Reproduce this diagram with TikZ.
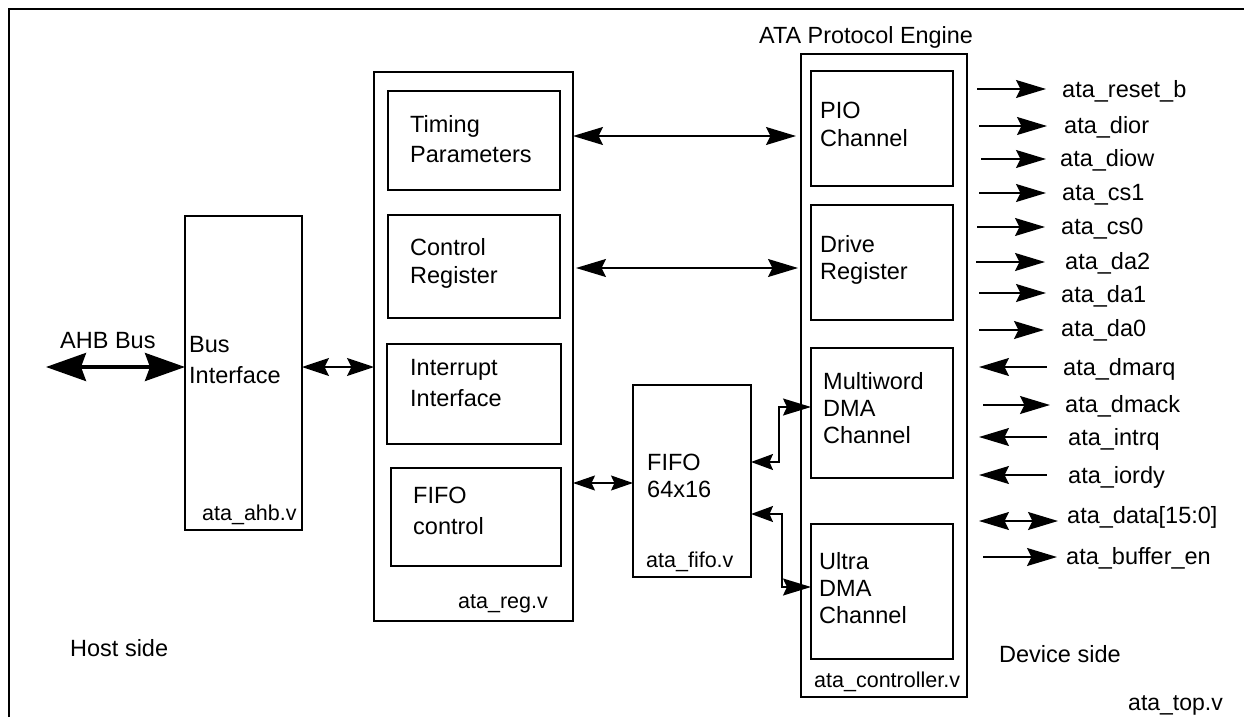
\documentclass[tikz,border=0pt]{standalone}
\usepackage{fontspec}
\setmainfont{Liberation Sans}
\usetikzlibrary{arrows.meta}
\newcommand\sigline[8]{%
  \coordinate (#1-a) at (#3,#2);
  \coordinate (#1-b) at (#4,#2);
  \node[sigtxt] (#1) at (#6,#7) {#8};
  \draw[#5] (#1-a) -- (#1-b);
}
\begin{document}
\begin{tikzpicture}[x=1pt,y=-1pt,
  box/.style={draw, line width=2pt, inner sep=0pt, outer sep=0pt},
  txt/.style={anchor=base west, inner sep=0pt, align=left, font=\fontsize{23.5}{#1}\selectfont},
  txt/.default=28,
  file/.style={anchor=base west, inner sep=0pt, font=\fontsize{21.5}{26}\selectfont},
  sigtxt/.style={anchor=base west, inner sep=0pt, font=\fontsize{23.5}{28}\selectfont},
  plain/.style={anchor=base west, inner sep=0pt, font=\fontsize{23.5}{28}\selectfont},
  sigout/.style={line width=1.5pt, -{Stealth[length=30pt,width=18pt,inset=4.5pt]}},
  sigin/.style={line width=1.5pt, {Stealth[length=30pt,width=18pt,inset=4.5pt]}-},
  sigboth/.style={line width=1.5pt, {Stealth[length=30pt,width=18pt,inset=4.5pt]}-{Stealth[length=30pt,width=18pt,inset=4.5pt]}},
  bus/.style={line width=3.5pt, {Stealth[length=40pt,width=28pt,inset=5pt]}-{Stealth[length=40pt,width=28pt,inset=5pt]}},
  conn/.style={line width=1.5pt, {Stealth[length=#1,width=18pt,inset=4.5pt]}-{Stealth[length=#1,width=18pt,inset=4.5pt]}},
  conn/.default=30pt,
  small/.style={line width=1.5pt, {Stealth[length=22pt,width=15pt,inset=3.5pt]}-{Stealth[length=22pt,width=15pt,inset=3.5pt]}},
  dma/.style={line width=1.5pt, {Stealth[length=22pt,width=16pt,inset=3.5pt]}-{Stealth[length=28pt,width=17pt,inset=4pt]}}
]
\useasboundingbox (0,0) rectangle (1244,717);
% outer frame (ata_top.v)
\draw[line width=2pt] (9,717) -- (9,9) -- (1244,9);

% blocks
\node[box, minimum width=117pt, minimum height=314pt] (ahb) at (243.5,373) {};
\node[box, minimum width=199pt, minimum height=549pt] (reg) at (473.5,346.5) {};
\node[box, minimum width=172pt, minimum height=99pt] (tim) at (474,140.5) {};
\node[box, minimum width=172pt, minimum height=103pt] (ctl) at (474,266.5) {};
\node[box, minimum width=174pt, minimum height=100pt] (irq) at (474,394) {};
\node[box, minimum width=170pt, minimum height=98pt] (fic) at (476,517) {};
\node[box, minimum width=118pt, minimum height=192pt] (fifo) at (692,481) {};
\node[box, minimum width=166pt, minimum height=643pt] (eng) at (884,375.5) {};
\node[box, minimum width=142pt, minimum height=115pt] (pio) at (882,128.5) {};
\node[box, minimum width=142pt, minimum height=115pt] (drv) at (882,262.5) {};
\node[box, minimum width=142pt, minimum height=130pt] (mdma) at (882,413) {};
\node[box, minimum width=142pt, minimum height=135pt] (udma) at (882,591.5) {};

% texts (anchor base = baseline of the last line)
\node[txt=31] (ahbt) at (189,383) {Bus\\Interface};
\node[file] (ahbl) at (202,520) {ata\_ahb.v};
\node[txt=30] (timt) at (410,162) {Timing\\Parameters};
\node[txt=28] (ctlt) at (410,283) {Control\\Register};
\node[txt=31] (irqt) at (410,406) {Interrupt\\Interface};
\node[txt=31] (fict) at (413,534) {FIFO\\control};
\node[file] (regl) at (458,608) {ata\_reg.v};
\node[txt=27] (fifot) at (647,497) {FIFO\\64x16};
\node[file] (fifol) at (646,567) {ata\_fifo.v};
\node[txt=28] (piot) at (820,146) {PIO\\Channel};
\node[txt=27] (drvt) at (820,279) {Drive\\Register};
\node[txt=27] (mdmat) at (823,443) {Multiword\\DMA\\Channel};
\node[txt=27] (udmat) at (819,623) {Ultra\\DMA\\Channel};
\node[file] (engl) at (814,687) {ata\_controller.v};
\node[anchor=base west, inner sep=0pt, font=\fontsize{23.4}{28}\selectfont] (engt) at (759,44) {ATA Protocol Engine};
\node[plain] (ahbbus) at (60,348) {AHB Bus};
\node[plain] (host) at (70,656) {Host side};
\node[plain] (dev) at (999,662) {Device side};
\node[anchor=base west, inner sep=0pt, font=\fontsize{23}{28}\selectfont] (topl) at (1128,710) {ata\_top.v};

% connectors
\coordinate (busL) at (46,367);
\draw[bus] (busL) -- (busL -| ahb.west);
\draw[conn=27pt] (busL -| ahb.east) -- (busL -| reg.west);
\coordinate (r1) at (0,136);
\draw[conn, shorten >=5pt] (r1 -| reg.east) -- (r1 -| eng.west);
\coordinate (r2) at (0,268);
\draw[conn, shorten <=3pt, shorten >=3pt] (r2 -| reg.east) -- (r2 -| eng.west);
\coordinate (r3) at (0,483);
\draw[small] (r3 -| reg.east) -- (r3 -| fifo.west);
\coordinate (r4) at (0,462);
\coordinate (r5) at (0,407);
\draw[dma] (r4 -| fifo.east) -- (779,462) |- (r5 -| mdma.west);
\coordinate (r6) at (0,514);
\coordinate (r7) at (0,587);
\draw[dma] (r6 -| fifo.east) -- (782,514) |- (r7 -| udma.west);

% device-side signals
\sigline{rst}{89}{977}{1046}{sigout}{1062}{97}{ata\_reset\_b}
\sigline{dior}{126}{979}{1047}{sigout}{1064}{133}{ata\_dior}
\sigline{diow}{159}{981}{1046}{sigout}{1060}{166}{ata\_diow}
\sigline{csa}{193}{979}{1046}{sigout}{1062}{200}{ata\_cs1}
\sigline{csb}{227}{977}{1045}{sigout}{1061}{234}{ata\_cs0}
\sigline{dac}{262}{976}{1045}{sigout}{1065}{269}{ata\_da2}
\sigline{dab}{293}{979}{1046}{sigout}{1061}{302}{ata\_da1}
\sigline{daa}{330}{979}{1044}{sigout}{1061}{336}{ata\_da0}
\sigline{dmarq}{367}{979}{1047}{sigin}{1063}{375}{ata\_dmarq}
\sigline{dmack}{405}{983}{1050}{sigout}{1065}{412}{ata\_dmack}
\sigline{intrq}{437}{979}{1047}{sigin}{1068}{445}{ata\_intrq}
\sigline{iordy}{475}{979}{1047}{sigin}{1068}{483}{ata\_iordy}
\sigline{data}{521}{979}{1058}{sigboth}{1067}{523}{ata\_data[15:0]}
\sigline{bufen}{557}{983}{1057}{sigout}{1066}{564}{ata\_buffer\_en}
\end{tikzpicture}
\end{document}
